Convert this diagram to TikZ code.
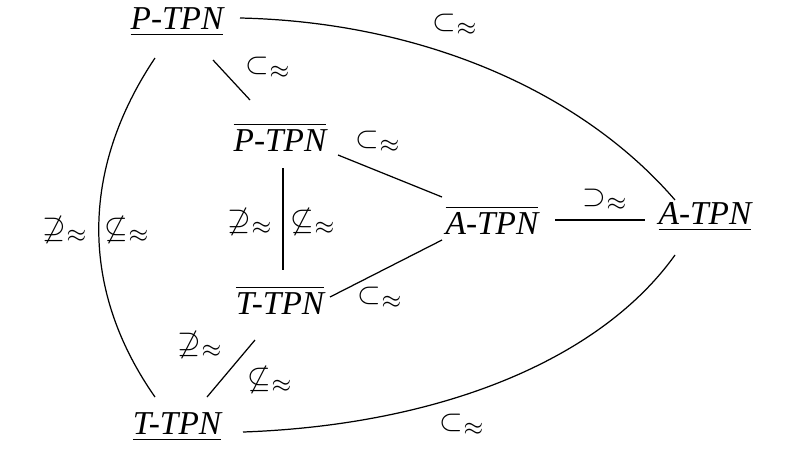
\documentclass[tikz,border=0pt]{standalone}
\usepackage{amsmath,amssymb}
\usepackage{fontspec}
\setmainfont{Liberation Serif}
\begin{document}
\begin{tikzpicture}[x=0.02cm,y=-0.02cm,
  nd/.style={font=\fontsize{19}{22}\selectfont\itshape, inner sep=0pt},
  lb/.style={font=\fontsize{19}{22}\selectfont, inner sep=0pt},
  ln/.style={line width=0.7pt}]
\useasboundingbox (0,0) rectangle (800,450);
\node[nd] (P) at (177,22) {\underline{P-TPN}};
\node[nd] (A) at (705,217) {\underline{A-TPN}};
\node[nd] (Pb) at (280,137) {$\overline{\text{\itshape P-TPN}}$};
\node[nd] (Ab) at (492,220) {$\overline{\text{\itshape A-TPN}}$};
\node[nd] (Tb) at (280,300) {$\overline{\text{\itshape T-TPN}}$};
\node[nd] (T) at (177,427) {\underline{T-TPN}};
\coordinate (p1) at (240,18); \coordinate (a1) at (675,200);
\coordinate (p2) at (213,60); \coordinate (pb1) at (250,100);
\coordinate (pb2) at (338,155); \coordinate (ab1) at (442,197);
\coordinate (tb2) at (330,297); \coordinate (ab2) at (442,240);
\coordinate (ab3) at (555,220); \coordinate (a2) at (645,220);
\coordinate (pb3) at (283,168); \coordinate (tb3) at (283,270);
\coordinate (tb4) at (255,340); \coordinate (t1) at (207,397);
\coordinate (p3) at (155,58); \coordinate (t2) at (155,397);
\coordinate (t3) at (243,432); \coordinate (a3) at (675,255);
\draw[ln] (p1) .. controls (420,22) and (580,90) .. (a1);
\draw[ln] (p2) -- (pb1);
\draw[ln] (pb2) -- (ab1);
\draw[ln] (tb2) -- (ab2);
\draw[ln] (ab3) -- (a2);
\draw[ln] (pb3) -- (tb3);
\draw[ln] (tb4) -- (t1);
\draw[ln] (p3) .. controls (80,170) and (80,290) .. (t2);
\draw[ln] (t3) .. controls (440,425) and (600,360) .. (a3);
\node[lb] at (455,25) {$\subset_{\approx}$};
\node[lb] at (268,68) {$\subset_{\approx}$};
\node[lb] at (378,142) {$\subset_{\approx}$};
\node[lb] at (380,298) {$\subset_{\approx}$};
\node[lb] at (605,200) {$\supset_{\approx}$};
\node[lb] at (250,222) {$\not\supseteq_{\approx}$};
\node[lb] at (313,222) {$\not\subseteq_{\approx}$};
\node[lb] at (200,345) {$\not\supseteq_{\approx}$};
\node[lb] at (270,380) {$\not\subseteq_{\approx}$};
\node[lb] at (65,230) {$\not\supseteq_{\approx}$};
\node[lb] at (127,230) {$\not\subseteq_{\approx}$};
\node[lb] at (462,425) {$\subset_{\approx}$};
\end{tikzpicture}
\end{document}
